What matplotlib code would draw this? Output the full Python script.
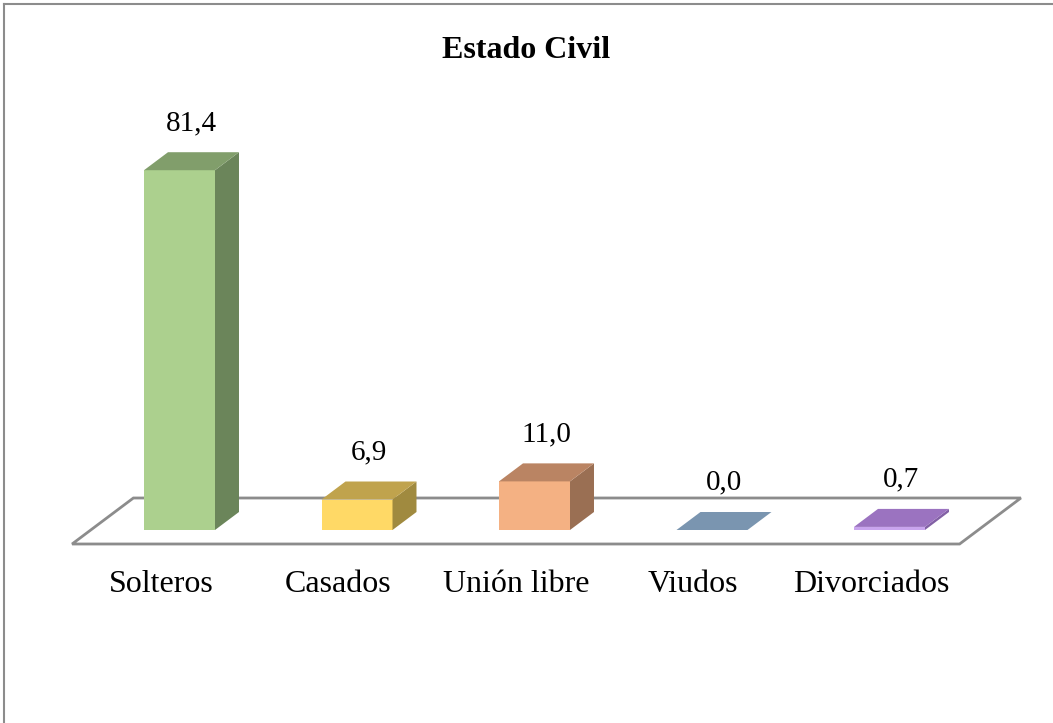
import numpy as np
import matplotlib.pyplot as plt
from matplotlib.patches import Polygon

categorias = ['Solteros', 'Casados', 'Unión libre', 'Viudos', 'Divorciados']
valores = [81.4, 6.9, 11.0, 0.0, 0.7]
etiquetas = ['81,4', '6,9', '11,0', '0,0', '0,7']

# front / top / side colours for every bar
c_frente = ['#ACD08E', '#FFD966', '#F4B183', '#A3B9D3', '#C9A5EE']
c_techo = ['#819E6B', '#C0A34D', '#BA8463', '#7A95B0', '#9B73C0']
c_lado = ['#6B855A', '#A08A3F', '#9A6F53', '#66809A', '#8260A5']

plt.rcParams['font.family'] = ['Liberation Serif', 'DejaVu Serif']

W, H, DPI = 1053, 723, 100
fig = plt.figure(figsize=(W / DPI, H / DPI), dpi=DPI)
ax = fig.add_axes([0, 0, 1, 1])

# pixel scale of the data axes
px_x = 177.5      # pixels per category
px_y = 4.42       # pixels per percent
x0, y0 = 179.5, 193.0
ax.set_xlim(-x0 / px_x, (W - x0) / px_x)
ax.set_ylim(-y0 / px_y, (H - y0) / px_y)
ax.axis('off')


def prof(d):
    # oblique depth: d pixels up, 4/3 d pixels right
    return d * 1.333 / px_x, d / px_y


ancho = 0.40
fondo = 18

# floor
n = len(categorias)
fx1, fy1 = prof(-14)
fx2, fy2 = prof(32)
piso = [(-0.5 + fx1, fy1), (n - 0.5 + fx1, fy1),
        (n - 0.5 + fx2, fy2), (-0.5 + fx2, fy2)]
ax.add_patch(Polygon(piso, closed=True, facecolor='white',
                     edgecolor='#8C8C8C', linewidth=2, zorder=1))

dx, dy = prof(fondo)
for i, v in enumerate(valores):
    l, r = i - ancho / 2, i + ancho / 2
    frente = [(l, 0), (r, 0), (r, v), (l, v)]
    techo = [(l, v), (r, v), (r + dx, v + dy), (l + dx, v + dy)]
    lado = [(r, 0), (r + dx, dy), (r + dx, v + dy), (r, v)]
    ax.add_patch(Polygon(frente, closed=True, facecolor=c_frente[i],
                         edgecolor='none', zorder=2))
    ax.add_patch(Polygon(lado, closed=True, facecolor=c_lado[i],
                         edgecolor='none', zorder=2))
    ax.add_patch(Polygon(techo, closed=True, facecolor=c_techo[i],
                         edgecolor='none', zorder=2))

    ax.annotate(etiquetas[i], (i + dx / 2, v + dy), xytext=(0, 21),
                textcoords='offset points', ha='center', va='center',
                fontsize=21, zorder=3)
    ax.text(i + fx1, -12.3, categorias[i], ha='center', va='center',
            fontsize=23, zorder=3)

fig.text(0.5, 0.93, 'Estado Civil', ha='center', va='center',
         fontsize=23, fontweight='bold')

# chart border (top and left only visible)
fig.add_artist(plt.Line2D([4 / W, 1], [1 - 4 / H, 1 - 4 / H],
                          color='#8C8C8C', linewidth=1.5))
fig.add_artist(plt.Line2D([4 / W, 4 / W], [0, 1 - 4 / H],
                          color='#8C8C8C', linewidth=1.5))

fig.savefig('out.png', dpi=DPI)
